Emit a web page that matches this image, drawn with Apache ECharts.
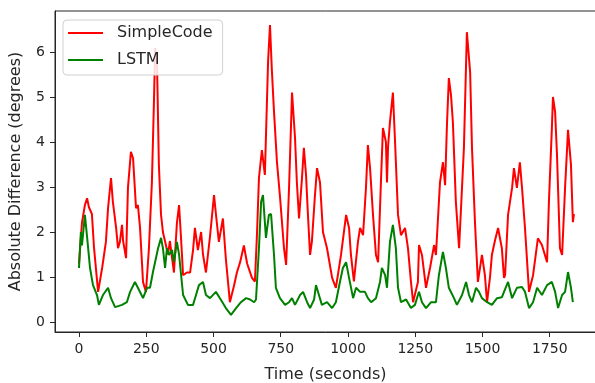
<!DOCTYPE html>
<html>
<head>
<meta charset="utf-8">
<script src="https://cdn.jsdelivr.net/npm/echarts@6/dist/echarts.min.js"></script>
<style>
  html, body { margin: 0; padding: 0; background: #fff; }
  #chart { width: 595px; height: 383px; }
</style>
</head>
<body>
<div id="chart"></div>
<script>
// readings (seconds, degrees)
const timeSimple = [0, 11, 22, 30, 37, 48, 56, 71, 86, 100, 108, 119, 126, 138, 145, 152, 160, 164, 175, 182,
  193, 201, 212, 219, 227, 238, 249, 260, 271, 279, 283, 290, 297, 305, 312, 331, 338, 353, 364, 372,
  379, 387, 401, 413, 424, 431, 442, 454, 461, 472, 487, 502, 509, 520, 535, 546, 561, 576, 587, 599,
  613, 625, 643, 654, 662, 669, 680, 691, 703, 710, 717, 725, 736, 747, 762, 770, 781, 792, 803, 810,
  818, 829, 836, 844, 851, 859, 866, 877, 885, 896, 907, 922, 941, 955, 974, 993, 1004, 1011, 1022, 1037,
  1045, 1056, 1067, 1074, 1082, 1093, 1104, 1112, 1123, 1130, 1141, 1145, 1149, 1156, 1167, 1175, 1186, 1197, 1212, 1223,
  1234, 1242, 1260, 1264, 1275, 1290, 1305, 1320, 1327, 1342, 1353, 1361, 1368, 1375, 1383, 1390, 1401, 1413, 1420, 1431,
  1442, 1454, 1461, 1472, 1483, 1498, 1509, 1517, 1528, 1535, 1546, 1558, 1572, 1580, 1584, 1595, 1610, 1617, 1628, 1639,
  1647, 1658, 1673, 1688, 1706, 1721, 1740, 1747, 1758, 1762, 1770, 1777, 1788, 1796, 1807, 1818, 1829, 1836, 1840];
const simpleCode = [1.3, 2.2, 2.6, 2.75, 2.55, 2.4, 1.64, 0.67, 1.2, 1.78, 2.53, 3.2, 2.67, 2.09, 1.64, 1.78, 2.16, 1.8, 1.42, 2.98,
  3.78, 3.64, 2.53, 2.6, 2.09, 0.89, 0.67, 1.64, 3.1, 4.98, 6.09, 5.78, 3.49, 2.38, 2.0, 1.5, 1.8, 1.1, 2.2, 2.6,
  1.9, 1.04, 1.1, 1.1, 1.6, 2.09, 1.6, 2.0, 1.5, 1.1, 1.9, 2.82, 2.4, 1.78, 2.3, 1.4, 0.44, 0.8, 1.1, 1.33,
  1.7, 1.3, 0.98, 0.9, 2.0, 3.2, 3.82, 3.27, 5.8, 6.6, 5.6, 4.67, 3.55, 2.8, 1.65, 1.27, 3.0, 5.1, 4.1, 3.1,
  2.3, 3.2, 3.87, 3.27, 2.4, 1.49, 1.8, 2.8, 3.42, 3.1, 2.0, 1.64, 0.98, 0.76, 1.49, 2.38, 2.09, 1.49, 0.9, 1.78,
  2.09, 1.93, 3.0, 3.93, 3.42, 2.38, 1.49, 1.33, 3.2, 4.31, 4.0, 3.1, 3.9, 4.44, 5.1, 4.0, 2.38, 1.93, 2.09, 1.64,
  0.9, 0.44, 0.89, 1.71, 1.49, 0.76, 1.2, 1.71, 1.49, 3.1, 3.55, 3.04, 4.4, 5.42, 5.04, 4.44, 2.67, 1.64, 1.64, 3.87,
  6.44, 5.56, 3.87, 2.22, 0.89, 1.49, 1.04, 0.44, 1.0, 1.49, 1.8, 2.09, 1.64, 0.98, 1.04, 2.38, 2.98, 3.42, 2.98, 3.55,
  2.98, 2.09, 0.67, 1.04, 1.86, 1.71, 1.33, 2.67, 4.31, 5.0, 4.67, 3.71, 1.64, 1.49, 2.98, 4.27, 3.49, 2.22, 2.4];

const timeLstm = [0, 7, 11, 22, 33, 41, 52, 67, 74, 89, 108, 119, 134, 160, 178, 190, 208, 219, 238, 253,
  264, 275, 294, 305, 312, 320, 327, 335, 346, 353, 364, 372, 387, 405, 424, 435, 446, 461, 472, 487,
  509, 528, 546, 565, 584, 602, 621, 636, 651, 658, 669, 677, 684, 691, 695, 706, 714, 725, 732, 747,
  766, 781, 792, 803, 822, 833, 848, 859, 874, 881, 892, 903, 922, 941, 955, 970, 981, 993, 1004, 1019,
  1030, 1045, 1063, 1074, 1086, 1104, 1119, 1126, 1138, 1145, 1156, 1167, 1178, 1186, 1197, 1216, 1234, 1249, 1260, 1264,
  1275, 1290, 1309, 1327, 1338, 1353, 1364, 1375, 1394, 1405, 1424, 1439, 1450, 1461, 1476, 1487, 1498, 1517, 1535, 1554,
  1572, 1580, 1595, 1610, 1628, 1647, 1658, 1673, 1688, 1703, 1721, 1740, 1758, 1770, 1781, 1796, 1807, 1818, 1829, 1836];
const lstm = [1.2, 2.0, 1.7, 2.38, 1.71, 1.2, 0.82, 0.6, 0.38, 0.6, 0.76, 0.53, 0.33, 0.38, 0.44, 0.67, 0.89, 0.76, 0.53, 0.76,
  0.76, 1.11, 1.64, 1.87, 1.64, 1.2, 1.64, 1.49, 1.6, 1.33, 1.78, 1.5, 0.6, 0.38, 0.38, 0.6, 0.82, 0.89, 0.6, 0.53,
  0.67, 0.49, 0.31, 0.16, 0.31, 0.44, 0.53, 0.5, 0.44, 0.5, 1.64, 2.67, 2.82, 2.22, 1.87, 2.38, 2.4, 1.49, 0.76, 0.53,
  0.38, 0.44, 0.53, 0.38, 0.6, 0.67, 0.44, 0.31, 0.5, 0.82, 0.6, 0.38, 0.44, 0.31, 0.44, 0.89, 1.2, 1.33, 0.98, 0.53,
  0.76, 0.67, 0.67, 0.53, 0.44, 0.53, 0.89, 1.2, 1.04, 0.76, 1.78, 2.16, 1.64, 0.76, 0.44, 0.5, 0.31, 0.38, 0.6, 0.67,
  0.44, 0.31, 0.44, 0.44, 1.04, 1.56, 1.2, 0.76, 0.53, 0.38, 0.6, 0.89, 0.6, 0.44, 0.76, 0.67, 0.53, 0.44, 0.38, 0.53,
  0.55, 0.67, 0.89, 0.53, 0.76, 0.78, 0.67, 0.31, 0.44, 0.76, 0.6, 0.82, 0.89, 0.67, 0.31, 0.6, 0.67, 1.11, 0.76, 0.44];

const xTicks = [0, 250, 500, 750, 1000, 1250, 1500, 1750];
const yTicks = [0, 1, 2, 3, 4, 5, 6];

const axisColor = '#262626';
const font = 'DejaVu Sans';

const chart = echarts.init(document.getElementById('chart'));

const option = {
  animation: false,
  backgroundColor: '#fff',
  grid: {
    left: 55, right: -1, top: 11, bottom: 51,
    outerBoundsMode: 'none',
    show: true, borderColor: axisColor, borderWidth: 1
  },
  legend: {
    orient: 'vertical',
    left: 63, top: 20,
    padding: [4, 10, 6, 5],
    icon: 'rect',
    itemWidth: 35, itemHeight: 2, itemGap: 9,
    backgroundColor: 'rgba(255,255,255,0.85)',
    borderColor: '#d0d0d0', borderWidth: 1, borderRadius: 4,
    textStyle: { fontFamily: font, fontSize: 16, lineHeight: 18, color: axisColor, padding: [0, 0, 0, 9] },
    data: ['SimpleCode', 'LSTM']
  },
  xAxis: {
    type: 'value',
    min: -89.2, max: 1922,
    name: 'Time (seconds)', nameLocation: 'middle', nameGap: 35,
    nameTextStyle: { fontFamily: font, fontSize: 16, color: axisColor },
    splitLine: { show: false },
    axisLine: { show: true, onZero: false, lineStyle: { color: axisColor, width: 1 } },
    axisTick: { show: true, length: 5, customValues: xTicks, lineStyle: { color: axisColor } },
    axisLabel: {
      customValues: xTicks, margin: 10, fontFamily: font, fontSize: 14, color: axisColor,
      formatter: v => String(v)
    }
  },
  yAxis: {
    type: 'value',
    min: -0.222, max: 6.911,
    name: 'Absolute Difference (degrees)', nameLocation: 'middle', nameGap: 31,
    nameTextStyle: { fontFamily: font, fontSize: 16, color: axisColor },
    splitLine: { show: false },
    axisLine: { show: true, onZero: false, lineStyle: { color: axisColor, width: 1 } },
    axisTick: { show: true, length: 5, customValues: yTicks, lineStyle: { color: axisColor } },
    axisLabel: {
      customValues: yTicks, margin: 10, fontFamily: font, fontSize: 14, color: axisColor,
      formatter: v => String(v)
    }
  },
  series: [
    {
      name: 'SimpleCode',
      type: 'line',
      symbol: 'none',
      color: '#ff0000',
      lineStyle: { width: 2, color: '#ff0000' },
      data: timeSimple.map((t, i) => [t, simpleCode[i]])
    },
    {
      name: 'LSTM',
      type: 'line',
      symbol: 'none',
      color: '#008000',
      lineStyle: { width: 2, color: '#008000' },
      data: timeLstm.map((t, i) => [t, lstm[i]])
    }
  ]
};

chart.setOption(option);
</script>
</body>
</html>
